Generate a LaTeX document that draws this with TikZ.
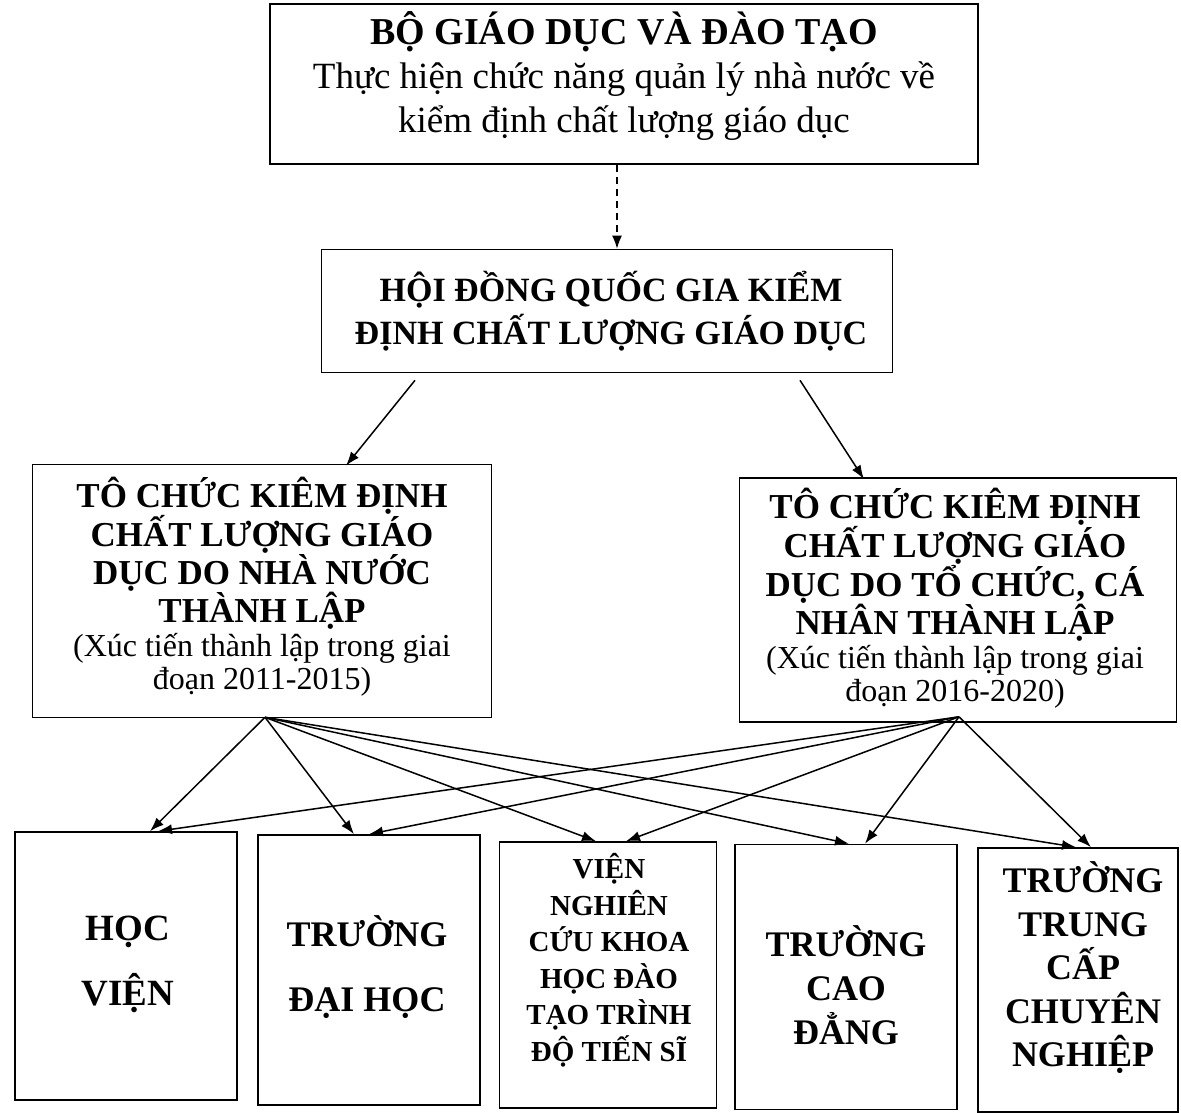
\documentclass[tikz,border=0pt]{standalone}
\usepackage{fontspec}
\setmainfont{Liberation Serif}
\usetikzlibrary{arrows.meta}
\tikzset{
  box/.style={draw, line width=1.6pt, rectangle, inner sep=0pt},
  txt/.style={align=center, inner sep=0pt},
  conn/.style={line width=1.5pt, -{Latex[length=14pt,width=10pt]}},
}
\newcommand{\fs}[2]{\fontsize{#1}{#2}\selectfont}
\newcommand{\rg}{\mdseries\fs{32}{33}}
\begin{document}
\begin{tikzpicture}[x=1pt,y=-1pt]
\useasboundingbox (0,0) rectangle (1181,1113);
% boxes
\node[box, minimum width=708pt, minimum height=160pt] (top) at (624,84) {};
\node[txt, font=\fs{37}{44}] (toptxt) at (624,76) {\textbf{\fs{38}{44}BỘ GIÁO DỤC VÀ ĐÀO TẠO}\\Thực hiện chức năng quản lý nhà nước về\\kiểm định chất lượng giáo dục};
\node[box, minimum width=571pt, minimum height=123pt] (hd) at (607,311) {};
\node[txt, font=\bfseries\fs{34}{43}] (hdtxt) at (611,311) {HỘI ĐỒNG QUỐC GIA KIỂM\\ĐỊNH CHẤT LƯỢNG GIÁO DỤC};
\node[box, minimum width=459pt, minimum height=253pt] (left) at (262,591) {};
\node[txt, font=\bfseries\fs{35}{38}] (lefttxt) at (262,587) {TÔ CHỨC KIÊM ĐỊNH\\CHẤT LƯỢNG GIÁO\\DỤC DO NHÀ NƯỚC\\THÀNH LẬP\\[-4pt]\rg(Xúc tiến thành lập trong giai\\[-5pt]\rg đoạn 2011-2015)};
\node[box, minimum width=437pt, minimum height=244pt] (right) at (958,600) {};
\node[txt, font=\bfseries\fs{35}{38}] (righttxt) at (955,598) {TÔ CHỨC KIÊM ĐỊNH\\CHẤT LƯỢNG GIÁO\\DỤC DO TỔ CHỨC, CÁ\\NHÂN THÀNH LẬP\\[-4pt]\rg(Xúc tiến thành lập trong giai\\[-5pt]\rg đoạn 2016-2020)};
% bottom boxes
\node[box, minimum width=222pt, minimum height=268pt] (b1) at (126,966) {};
\node[txt, font=\bfseries\fs{37}{65}] (b1txt) at (128,964) {HỌC\\VIỆN};
\node[box, minimum width=222pt, minimum height=270pt] (b2) at (369,970) {};
\node[txt, font=\bfseries\fs{36}{65}] (b2txt) at (367,967) {TRƯỜNG\\ĐẠI HỌC};
\node[box, minimum width=217pt, minimum height=266pt] (b3) at (608,975) {};
\node[txt, font=\bfseries\fs{29}{36.5}] (b3txt) at (609,960) {VIỆN\\NGHIÊN\\CỨU KHOA\\HỌC ĐÀO\\TẠO TRÌNH\\ĐỘ TIẾN SĨ};
\node[box, minimum width=222pt, minimum height=265pt] (b4) at (846,977) {};
\node[txt, font=\bfseries\fs{36}{44}] (b4txt) at (846,985) {TRƯỜNG\\CAO\\ĐẲNG};
\node[box, minimum width=200pt, minimum height=264pt] (b5) at (1078,980) {};
\node[txt, font=\bfseries\fs{36}{43.5}] (b5txt) at (1083,968) {TRƯỜNG\\TRUNG\\CẤP\\CHUYÊN\\NGHIỆP};
% connectors
\draw[line width=1.5pt, dash pattern=on 7pt off 5pt, -{Latex[length=13pt,width=10pt]}] ([xshift=-7pt]top.south) -- ([xshift=10pt]hd.north);
\draw[conn] ([xshift=-192pt,yshift=-7pt]hd.south) -- ([xshift=84pt,yshift=-2pt]left.north);
\draw[conn] ([xshift=193pt,yshift=-7pt]hd.south) -- ([xshift=-94pt,yshift=-2pt]right.north);
% fan from left
\coordinate (lf) at ([xshift=3pt,yshift=1pt]left.south);
\draw[conn] (lf) -- ([xshift=24pt]b1.north);
\draw[conn] (lf) -- ([xshift=-15pt]b2.north);
\draw[conn] (lf) -- ([xshift=-12pt]b3.north);
\draw[conn] (lf) -- ([xshift=3pt]b4.north);
\draw[conn] (lf) -- ([xshift=-2pt]b5.north);
% fan from right
\coordinate (rf) at ([xshift=1pt,yshift=6pt]right.south);
\draw[conn] (rf) -- ([xshift=32pt]b1.north);
\draw[conn] (rf) -- ([xshift=0pt]b2.north);
\draw[conn] (rf) -- ([xshift=18pt]b3.north);
\draw[conn] (rf) -- ([xshift=19pt]b4.north);
\draw[conn] (rf) -- ([xshift=13pt]b5.north);
\end{tikzpicture}
\end{document}
